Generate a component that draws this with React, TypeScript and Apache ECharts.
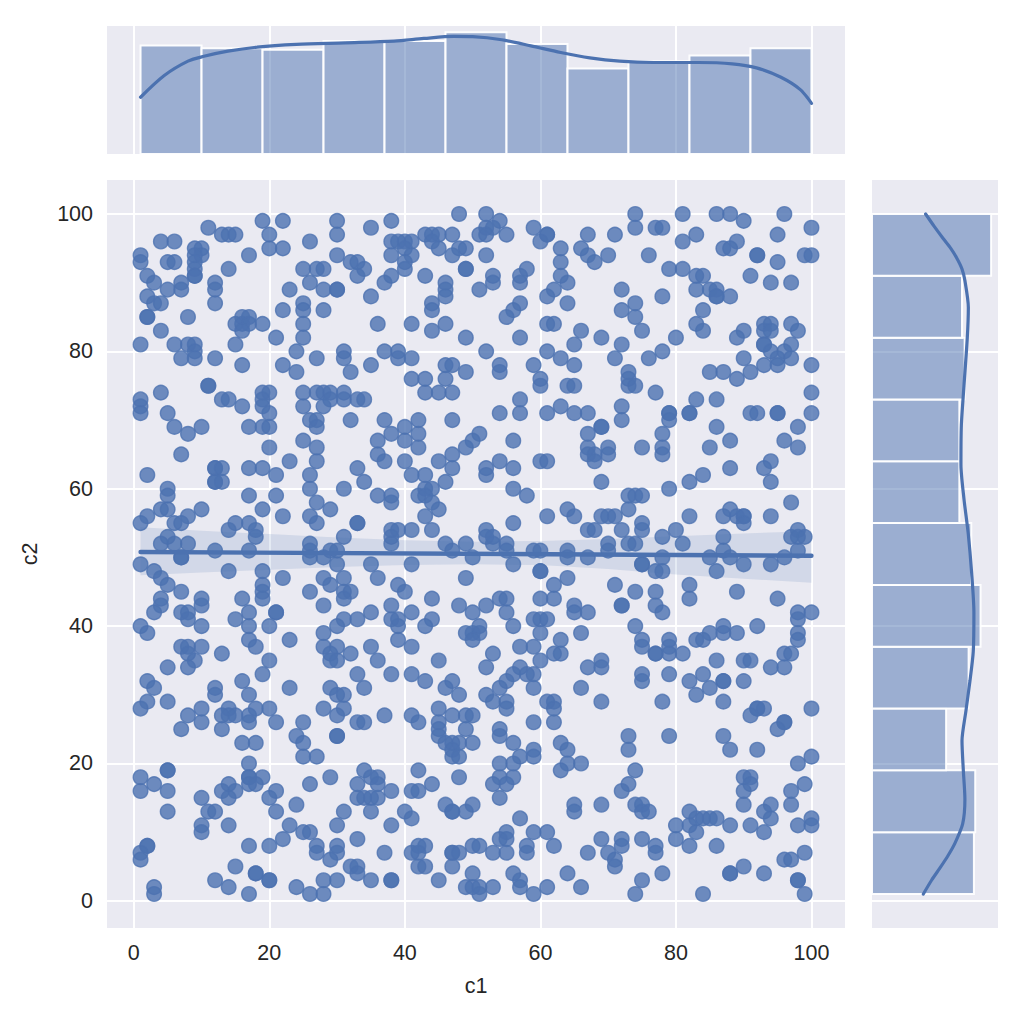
import React, { useEffect, useRef } from "react";
import * as echarts from "echarts";

const BLUE = "#4c72b0";
const tickValues = [0, 20, 40, 60, 80, 100];
const xLimits = [-3.95, 104.95];
const yLimits = [-3.95, 104.95];

// scatter points grouped as [c2, list of c1]
const rowsHigh: [number, number[]][] = [
  [100, [48, 52, 74, 81, 86, 88, 96]],
  [99, [19, 22, 30, 38, 54, 90]],
  [98, [11, 35, 52, 53, 59, 74, 77, 78, 100]],
  [97, [13, 14, 15, 20, 30, 43, 44, 45, 47, 51, 52, 55, 61, 61, 67, 71, 83, 95]],
  [96, [4, 6, 26, 38, 39, 40, 41, 44, 60, 81, 89]],
  [95, [9, 10, 20, 22, 40, 45, 48, 49, 63, 66, 87, 88]],
  [94, [1, 10, 9, 17, 30, 38, 41, 47, 52, 67, 70, 76, 92, 92, 99, 100]],
  [93, [1, 5, 6, 9, 32, 33, 40, 63, 68, 95]],
  [92, [9, 14, 25, 27, 28, 34, 40, 49, 49, 58, 79, 81]],
  [91, [2, 9, 9, 33, 38, 43, 53, 57, 63, 83, 84, 91]],
  [90, [3, 7, 12, 26, 37, 46, 53, 57, 64, 94, 97]],
  [89, [5, 7, 12, 23, 28, 30, 30, 46, 51, 62, 72, 83, 85, 86]],
  [88, [2, 35, 46, 61, 78, 86, 86, 88]],
  [87, [3, 4, 12, 25, 44, 57, 64, 74]],
  [86, [22, 25, 28, 44, 56, 72, 84]],
  [85, [2, 2, 8, 16, 17, 55, 74]],
  [84, [15, 16, 17, 19, 25, 36, 41, 46, 61, 62, 83, 93, 94, 97]],
  [83, [4, 16, 44, 66, 75, 84, 90, 93, 94, 98]],
  [82, [21, 25, 49, 57, 69, 80, 89]],
  [81, [1, 6, 8, 9, 15, 65, 72, 93, 93, 97]],
];
const rowsUpper: [number, number[]][] = [
  [80, [9, 24, 31, 37, 39, 52, 61, 78, 94, 96]],
  [79, [7, 9, 12, 27, 31, 39, 41, 63, 71, 76, 90, 95, 97]],
  [78, [16, 22, 35, 46, 47, 54, 59, 65, 93, 95, 100]],
  [77, [24, 32, 49, 54, 73, 85, 87, 91]],
  [76, [41, 43, 46, 60, 73, 89]],
  [75, [11, 11, 60, 64, 65, 73, 74]],
  [74, [4, 19, 20, 25, 27, 28, 29, 31, 43, 45, 47, 77, 100]],
  [73, [1, 13, 14, 19, 29, 31, 33, 34, 57, 83, 86]],
  [72, [1, 16, 19, 25, 28, 63, 72]],
  [71, [1, 5, 20, 54, 57, 61, 65, 67, 79, 79, 82, 82, 91, 92, 95, 95, 100]],
  [70, [26, 27, 32, 37, 42, 47, 72, 79]],
  [69, [6, 10, 17, 19, 20, 27, 40, 69, 69, 86, 98]],
  [68, [8, 38, 42, 51, 67, 78]],
  [67, [25, 36, 40, 50, 56, 88, 96]],
  [66, [20, 27, 42, 49, 67, 70, 75, 78, 85, 98]],
  [65, [7, 36, 47, 67, 68, 70, 78]],
  [64, [23, 27, 37, 40, 45, 54, 60, 61, 68, 94]],
  [63, [12, 12, 13, 17, 19, 33, 47, 52, 56, 88, 93]],
  [62, [2, 21, 26, 41, 43, 52, 84]],
  [61, [12, 12, 13, 34, 46, 69, 82, 94]],
];
const rowsMiddle: [number, number[]][] = [
  [60, [5, 26, 31, 43, 44, 56, 79]],
  [59, [5, 17, 21, 36, 38, 42, 43, 58, 73, 74, 75]],
  [58, [27, 38, 44, 97]],
  [57, [4, 5, 10, 19, 29, 45, 64, 73, 88]],
  [56, [2, 8, 22, 26, 43, 61, 65, 69, 70, 71, 82, 87, 89, 90, 90, 94]],
  [55, [1, 6, 7, 15, 17, 27, 33, 33, 56, 75, 90]],
  [54, [14, 18, 38, 39, 41, 44, 52, 67, 68, 72, 75, 80, 98]],
  [53, [5, 18, 31, 38, 52, 53, 78, 87, 97, 98, 99]],
  [52, [4, 6, 8, 26, 38, 46, 49, 53, 55, 70, 73, 74, 81]],
  [51, [12, 17, 26, 29, 30, 47, 55, 59, 60, 64, 70, 87, 98]],
  [50, [7, 7, 26, 28, 50, 64, 67, 78, 85, 88, 96]],
  [49, [1, 30, 35, 41, 56, 75, 75, 90, 94]],
  [48, [3, 14, 19, 60, 60, 77, 78, 86]],
  [47, [4, 22, 28, 31, 36, 49, 64]],
  [46, [5, 19, 29, 39, 62, 71, 82]],
  [45, [7, 19, 26, 31, 32, 40, 74, 77, 89]],
  [44, [4, 10, 16, 19, 31, 44, 54, 55, 60, 62, 82, 95]],
  [43, [4, 10, 28, 38, 48, 52, 65, 72, 72, 77]],
  [42, [3, 7, 8, 17, 21, 21, 35, 41, 50, 55, 65, 67, 78, 98, 100]],
  [41, [8, 15, 31, 33, 38, 39, 44, 59, 60, 61, 98]],
];
const rowsLower: [number, number[]][] = [
  [40, [1, 10, 17, 20, 30, 39, 43, 51, 56, 74, 87, 92]],
  [39, [2, 28, 49, 50, 51, 60, 66, 85, 87, 89, 98]],
  [38, [17, 23, 39, 50, 63, 75, 79, 83, 84, 98]],
  [37, [7, 8, 10, 18, 28, 30, 35, 41, 57, 59, 75, 79]],
  [36, [8, 13, 29, 32, 53, 62, 63, 77, 77, 79, 81, 96, 97]],
  [35, [9, 20, 29, 30, 36, 45, 60, 69, 86, 90, 91]],
  [34, [5, 8, 52, 57, 67, 69, 94, 96]],
  [33, [19, 33, 38, 41, 56, 58, 59, 75, 79, 84]],
  [32, [2, 16, 43, 47, 55, 75, 82, 87, 87, 90]],
  [31, [3, 12, 23, 29, 34, 46, 54, 59, 66, 85]],
  [30, [12, 17, 30, 31, 48, 52, 83]],
  [29, [2, 5, 53, 55, 61, 62, 69, 78, 87]],
  [28, [1, 10, 14, 18, 20, 28, 31, 45, 55, 62, 92, 92, 93, 100]],
  [27, [8, 13, 14, 15, 17, 30, 37, 41, 47, 49, 50, 91]],
  [26, [10, 17, 21, 25, 33, 34, 42, 45, 59, 62, 96, 96]],
  [25, [7, 13, 45, 49, 54, 95]],
  [24, [24, 30, 30, 45, 54, 73, 79, 87]],
  [23, [16, 18, 25, 46, 47, 48, 50, 56, 63]],
  [22, [47, 59, 64, 73, 88, 92]],
  [21, [25, 27, 47, 48, 57, 59, 100]],
];
const rowsBottom: [number, number[]][] = [
  [20, [17, 54, 56, 64, 66, 98]],
  [19, [5, 5, 34, 42, 63, 74]],
  [18, [1, 17, 17, 19, 29, 35, 36, 48, 54, 56, 90, 91]],
  [17, [3, 14, 17, 18, 26, 33, 36, 44, 53, 55, 73, 91, 99]],
  [16, [1, 5, 13, 15, 21, 38, 41, 42, 72, 90, 97]],
  [15, [10, 14, 20, 33, 34, 35, 36, 54]],
  [14, [24, 46, 50, 65, 69, 74, 75, 90, 94, 97]],
  [13, [5, 11, 12, 21, 31, 35, 40, 47, 47, 49, 65, 75, 76, 82, 93]],
  [12, [41, 57, 83, 84, 85, 86, 94, 100]],
  [11, [10, 14, 23, 30, 38, 80, 82, 88, 91, 98, 100]],
  [10, [10, 25, 26, 55, 59, 61, 83, 93]],
  [9, [22, 33, 54, 55, 69, 72, 75, 80]],
  [8, [2, 2, 17, 20, 27, 30, 42, 43, 50, 51, 58, 62, 72, 77, 82, 86]],
  [7, [1, 27, 30, 37, 41, 42, 47, 47, 48, 53, 55, 58, 67, 70, 77, 99]],
  [6, [1, 29, 71, 96, 97]],
  [5, [15, 32, 33, 42, 43, 47, 71, 90]],
  [4, [18, 18, 33, 50, 56, 64, 78, 88, 88, 93]],
  [3, [12, 20, 20, 28, 30, 35, 38, 38, 45, 57, 75, 98, 98]],
  [2, [3, 14, 24, 49, 50, 51, 53, 57, 61, 66]],
  [1, [3, 17, 26, 28, 51, 59, 74, 84, 99]],
];

// regression fit and its confidence band
const fitX = [1, 100];
const fitY = [50.8, 50.25];
const bandX = [1, 10, 20, 30, 40, 50, 60, 70, 80, 90, 100];
const bandUpper = [54.4, 53.9, 53.4, 52.9, 52.5, 52.3, 52.4, 52.7, 53.1, 53.5, 53.8];
const bandLower = [47.4, 47.8, 48.2, 48.6, 48.9, 49.0, 48.9, 48.3, 47.5, 46.9, 46.3];

// marginal histograms (11 bins, from 1 to 100)
const binStart = 1;
const binWidth = 9;
const c1Counts = [75, 73, 72, 78, 78, 84, 76, 59, 64, 68, 73];
const c2Counts = [77, 78, 56, 73, 82, 75, 66, 66, 70, 68, 90];

// marginal KDE curves, in count units
const kdeC1X = [1, 4.5, 8, 10.2, 13.9, 18.2, 24, 31.2, 38.4, 42.8, 47.2, 50, 54.3, 58.6, 63, 67.3, 71.7, 76.7, 83.3, 88.3, 91.9, 95.5, 98.4, 100];
const kdeC1Y = [39.2, 54.2, 64.1, 67.3, 71, 73.8, 75.7, 76.8, 78, 79.8, 81.2, 81, 78.9, 74.7, 70.1, 66.4, 64.1, 63.2, 63.2, 62.3, 59.5, 53, 44.3, 35];
const kdeC2Y = [1, 3, 4.8, 6.6, 8.4, 11.2, 14.8, 19, 23.3, 27.7, 32, 36.3, 42, 47.7, 53.5, 58.5, 63.5, 69.2, 75, 82, 86.4, 90.3, 92, 93.6, 95, 96.4, 98.2, 100];
const kdeC2X = [38.8, 45, 51.4, 57.5, 62.7, 68.5, 70.2, 69, 68, 71, 74, 76.5, 77, 75.3, 72.7, 69.5, 67.2, 67.5, 69.5, 72, 72.8, 70.2, 68, 64, 59.5, 53.9, 47, 40.5];

const FONT = "'Liberation Sans', Arial, sans-serif";
const TEXT = "#262626";

const points = [...rowsHigh, ...rowsUpper, ...rowsMiddle, ...rowsLower, ...rowsBottom].flatMap(
  ([c2, c1s]) => c1s.map((c1) => [c1, c2])
);

const histStyle = {
  fill: "rgba(76,114,176,0.5)",
  stroke: "rgba(255,255,255,0.95)",
  lineWidth: 2,
};

function hiddenValueAxis(gridIndex: number, min: number, max: number) {
  return {
    type: "value",
    gridIndex,
    min,
    max,
    axisLine: { show: false },
    axisTick: { show: false },
    axisLabel: { show: false },
    splitLine: { show: false },
  };
}

function gridAxis(gridIndex: number, limits: number[], labels: boolean, extra: object = {}) {
  return {
    type: "value",
    gridIndex,
    min: limits[0],
    max: limits[1],
    axisLine: { show: false },
    axisTick: { show: false, customValues: tickValues },
    axisLabel: labels
      ? { show: true, customValues: tickValues, color: TEXT, fontFamily: FONT, fontSize: 21.5, margin: 14 }
      : { show: false, customValues: tickValues },
    splitLine: { show: true, lineStyle: { color: "#ffffff", width: 2 } },
    nameTextStyle: { color: TEXT, fontFamily: FONT, fontSize: 21.5 },
    ...extra,
  };
}

export default function App() {
  const ref = useRef<HTMLDivElement>(null);
  useEffect(() => {
    const chart = echarts.init(ref.current!, undefined, { renderer: "svg" });
    const c1Max = 88.4;
    const c2Max = 95.2;
    chart.setOption({
      animation: false,
      backgroundColor: "#ffffff",
      grid: [
        { left: 107, top: 180, width: 738, height: 748, show: true, backgroundColor: "#eaeaf2", borderWidth: 0 },
        { left: 107, top: 26, width: 738, height: 128, show: true, backgroundColor: "#eaeaf2", borderWidth: 0 },
        { left: 872, top: 180, width: 126, height: 748, show: true, backgroundColor: "#eaeaf2", borderWidth: 0 },
      ],
      xAxis: [
        gridAxis(0, xLimits, true, { name: "c1", nameLocation: "middle", nameGap: 47 }),
        gridAxis(1, xLimits, false),
        hiddenValueAxis(2, 0, c2Max),
      ],
      yAxis: [
        gridAxis(0, yLimits, true, { name: "c2", nameLocation: "middle", nameGap: 66 }),
        hiddenValueAxis(1, 0, c1Max),
        gridAxis(2, yLimits, false),
      ],
      series: [
        {
          type: "scatter",
          xAxisIndex: 0,
          yAxisIndex: 0,
          z: 2,
          symbolSize: 14.6,
          data: points,
          itemStyle: {
            opacity: 1,
            color: "rgba(76,114,176,0.8)",
            borderColor: "rgba(76,114,176,0.8)",
            borderWidth: 1.4,
          },
        },
        {
          type: "custom",
          xAxisIndex: 0,
          yAxisIndex: 0,
          z: 3,
          silent: true,
          data: [[0]],
          renderItem: (_p: any, api: any) => {
            const up = bandX.map((x, i) => api.coord([x, bandUpper[i]]));
            const low = bandX.map((x, i) => api.coord([x, bandLower[i]])).reverse();
            return {
              type: "polygon",
              shape: { points: [...up, ...low] },
              style: { fill: "rgba(76,114,176,0.15)" },
            };
          },
        },
        {
          type: "line",
          xAxisIndex: 0,
          yAxisIndex: 0,
          z: 4,
          showSymbol: false,
          data: fitX.map((x, i) => [x, fitY[i]]),
          lineStyle: { color: BLUE, width: 4.4, cap: "round" },
        },
        {
          type: "custom",
          xAxisIndex: 1,
          yAxisIndex: 1,
          z: 2,
          silent: true,
          data: c1Counts.map((n, i) => [binStart + i * binWidth, binStart + (i + 1) * binWidth, n]),
          encode: { x: [0, 1], y: 2 },
          renderItem: (_p: any, api: any) => {
            const a = api.coord([api.value(0), api.value(2)]);
            const b = api.coord([api.value(1), 0]);
            return {
              type: "rect",
              shape: { x: a[0], y: a[1], width: b[0] - a[0], height: b[1] - a[1] },
              style: histStyle,
            };
          },
        },
        {
          type: "line",
          xAxisIndex: 1,
          yAxisIndex: 1,
          z: 4,
          showSymbol: false,
          smooth: 0.3,
          data: kdeC1X.map((x, i) => [x, kdeC1Y[i]]),
          lineStyle: { color: BLUE, width: 3.2, cap: "round" },
        },
        {
          type: "custom",
          xAxisIndex: 2,
          yAxisIndex: 2,
          z: 2,
          silent: true,
          data: c2Counts.map((n, i) => [n, binStart + i * binWidth, binStart + (i + 1) * binWidth]),
          encode: { x: 0, y: [1, 2] },
          renderItem: (_p: any, api: any) => {
            const a = api.coord([0, api.value(2)]);
            const b = api.coord([api.value(0), api.value(1)]);
            return {
              type: "rect",
              shape: { x: a[0], y: a[1], width: b[0] - a[0], height: b[1] - a[1] },
              style: histStyle,
            };
          },
        },
        {
          type: "line",
          xAxisIndex: 2,
          yAxisIndex: 2,
          z: 4,
          showSymbol: false,
          smooth: 0.25,
          data: kdeC2X.map((x, i) => [x, kdeC2Y[i]]),
          lineStyle: { color: BLUE, width: 3.2, cap: "round" },
        },
      ],
    });
    return () => chart.dispose();
  }, []);
  return (
    <div
      ref={ref}
      style={{ position: "absolute", left: 0, top: 0, width: 1024, height: 1024 }}
    />
  );
}
